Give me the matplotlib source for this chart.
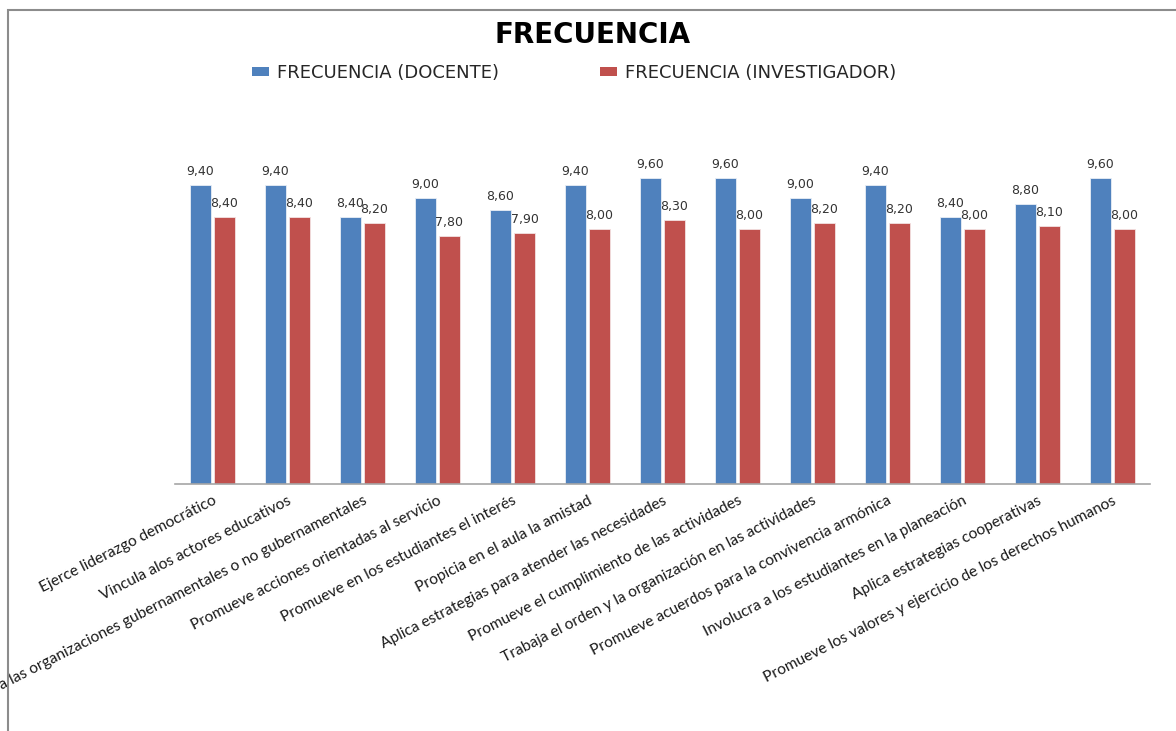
import matplotlib
matplotlib.use("Agg")
import matplotlib.pyplot as plt
from matplotlib.patches import Rectangle, Patch
import numpy as np

categories = [
    "Ejerce liderazgo democrático",
    "Vincula alos actores educativos",
    "Vincula a las organizaciones gubernamentales o no gubernamentales",
    "Promueve acciones orientadas al servicio",
    "Promueve en los estudiantes el interés",
    "Propicia en el aula la amistad",
    "Aplica estrategias para atender las necesidades",
    "Promueve el cumplimiento de las actividades",
    "Trabaja el orden y la organización en las actividades",
    "Promueve acuerdos para la convivencia armónica",
    "Involucra a los estudiantes en la planeación",
    "Aplica estrategias cooperativas",
    "Promueve los valores y ejercicio de los derechos humanos",
]
docente = [9.40, 9.40, 8.40, 9.00, 8.60, 9.40, 9.60, 9.60, 9.00, 9.40, 8.40, 8.80, 9.60]
investigador = [8.40, 8.40, 8.20, 7.80, 7.90, 8.00, 8.30, 8.00, 8.20, 8.20, 8.00, 8.10, 8.00]
series_names = ["FRECUENCIA (DOCENTE)", "FRECUENCIA (INVESTIGADOR)"]
title = "FRECUENCIA"

BLUE = "#4F81BD"
RED = "#C0504D"

W, H = 1176, 731
fig = plt.figure(figsize=(W / 100, H / 100), dpi=100)

# chart frame (runs off the right and bottom edges)
fig.patches.append(Rectangle((8 / W, -0.1), 1.2, (H - 10) / H + 0.1,
                             transform=fig.transFigure, fill=False,
                             edgecolor="#8C8C8C", linewidth=1.5))

ax = fig.add_axes([175 / W, (H - 484) / H, 975 / W, (484 - 102) / H])
x = np.arange(len(categories))
bw = 0.267
off = 0.16
b1 = ax.bar(x - off, docente, bw, color=BLUE, edgecolor="#E8EEF6", linewidth=0.6)
b2 = ax.bar(x + off, investigador, bw, color=RED, edgecolor="#F3E2E2", linewidth=0.6)

for bars, vals in ((b1, docente), (b2, investigador)):
    for b, v in zip(bars, vals):
        ax.annotate(f"{v:.2f}".replace(".", ","),
                    (b.get_x() + b.get_width() / 2, v),
                    xytext=(0, 5), textcoords="offset points",
                    ha="center", va="bottom", fontsize=9,
                    family="DejaVu Sans", color="#333333")

ax.set_xlim(-0.5, len(categories) - 0.5)
ax.set_ylim(0, 12)
ax.set_yticks([])
for s in ("top", "right", "left"):
    ax.spines[s].set_visible(False)
ax.spines["bottom"].set_color("#A6A6A6")
ax.spines["bottom"].set_linewidth(1.2)
ax.set_xticks(x)
ax.set_xticklabels(categories, rotation=27, ha="right", va="top",
                   rotation_mode="anchor", fontsize=11.2, family="Lato",
                   color="#1a1a1a")
ax.tick_params(axis="x", length=0, pad=7)

fig.text(593 / W, 1 - 35 / H, title, ha="center", va="center",
         fontsize=20, fontweight="bold", family="DejaVu Sans")

handles = [Patch(facecolor=BLUE), Patch(facecolor=RED)]
fig.legend(handles, series_names, loc="center left", ncol=2,
           bbox_to_anchor=(236 / W, 1 - 73 / H), frameon=False,
           prop={"family": "DejaVu Sans", "size": 13},
           handlelength=0.95, handleheight=0.42, handletextpad=0.42,
           columnspacing=5.6, labelcolor="#262626")

fig.savefig("out.png", dpi=100)
